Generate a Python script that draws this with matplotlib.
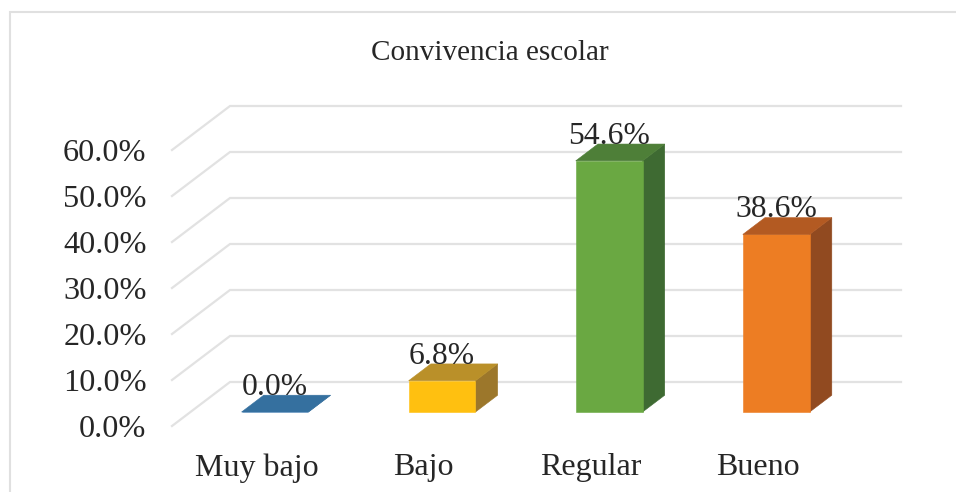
import matplotlib
matplotlib.use("Agg")
import matplotlib.pyplot as plt
from matplotlib.lines import Line2D
from matplotlib.ticker import PercentFormatter

title = "Convivencia escolar"
categories = ["Muy bajo", "Bajo", "Regular", "Bueno"]
values = [0.0, 6.8, 54.6, 38.6]
y_ticks = [0, 10, 20, 30, 40, 50, 60]
front_colors = ["#4A86BE", "#FFC010", "#6AA842", "#ED7D23"]
top_colors = ["#35709F", "#BA9029", "#4E7F38", "#B35A22"]
side_colors = ["#2F6390", "#9C772B", "#3E6A32", "#914A20"]

W, H = 956, 492
plt.rcParams["font.family"] = ["Liberation Serif", "DejaVu Serif"]
TEXT = "#262626"
GRID = "#E2E2E2"

fig = plt.figure(figsize=(W / 100, H / 100), dpi=100)
L, R, T, B = 172, 843, 150, 426
ax = fig.add_axes([L / W, 1 - B / H, (R - L) / W, (B - T) / H])
ax.set_ylim(0, 60)
ax.set_xlim(-0.506, 3.51)
ax.patch.set_visible(False)
for s in ax.spines.values():
    s.set_visible(False)

PX_X = (R - L) / (3.51 + 0.506)
PX_Y = (B - T) / 60
DEPTH_DX = 58 / PX_X   # full floor depth in x units
DEPTH_DY = 44 / PX_Y   # full floor depth in y units
D0, D1 = 0.318, 0.70   # bar front / back depth
HALF = 0.2


def proj(x, y, d):
    return x + d * DEPTH_DX, y + d * DEPTH_DY


# walls and floor grid
for t in y_ticks:
    p0 = proj(-0.506, t, 0)
    p1 = proj(-0.506, t, 1)
    p2 = proj(3.51, t, 1)
    ax.plot([p0[0], p1[0], p2[0]], [p0[1], p1[1], p2[1]], color=GRID, lw=1.6,
            clip_on=False, zorder=1, solid_joinstyle="miter")

# bars
for i, v in enumerate(values):
    x0, x1 = i - HALF, i + HALF
    front = [proj(x0, 0, D0), proj(x1, 0, D0), proj(x1, v, D0), proj(x0, v, D0)]
    top = [proj(x0, v, D0), proj(x1, v, D0), proj(x1, v, D1), proj(x0, v, D1)]
    side = [proj(x1, 0, D0), proj(x1, 0, D1), proj(x1, v, D1), proj(x1, v, D0)]
    for poly, c in ((side, side_colors[i]), (front, front_colors[i]), (top, top_colors[i])):
        ax.fill(*zip(*poly), color=c, lw=0.4, clip_on=False, zorder=3)
    lx = proj(i, v, D0)[0]
    ly = proj(i, v, D1)[1]
    ax.annotate(f"{v:.1f}%", (lx, ly), xytext=(0, 0.3), textcoords="offset points",
                ha="center", va="baseline", fontsize=22.8, color=TEXT, zorder=4,
                annotation_clip=False)

ax.set_yticks(y_ticks)
ax.yaxis.set_major_formatter(PercentFormatter(decimals=1))
ax.set_xticks(range(len(categories)))
ax.set_xticklabels(categories)
ax.tick_params(axis="y", length=0, pad=18.3, labelsize=23.2, labelcolor=TEXT)
ax.tick_params(axis="x", length=0, pad=19.5, labelsize=23, labelcolor=TEXT)

fig.text(490 / W, 1 - 60 / H, title, ha="center", va="baseline", fontsize=21, color=TEXT)

# chart frame
fig.add_artist(Line2D([9.5 / W, 9.5 / W, 1], [0, 1 - 11.5 / H, 1 - 11.5 / H],
                      color="#E0E0E0", lw=1.5, solid_joinstyle="miter"))

fig.savefig("out.png", dpi=100)
